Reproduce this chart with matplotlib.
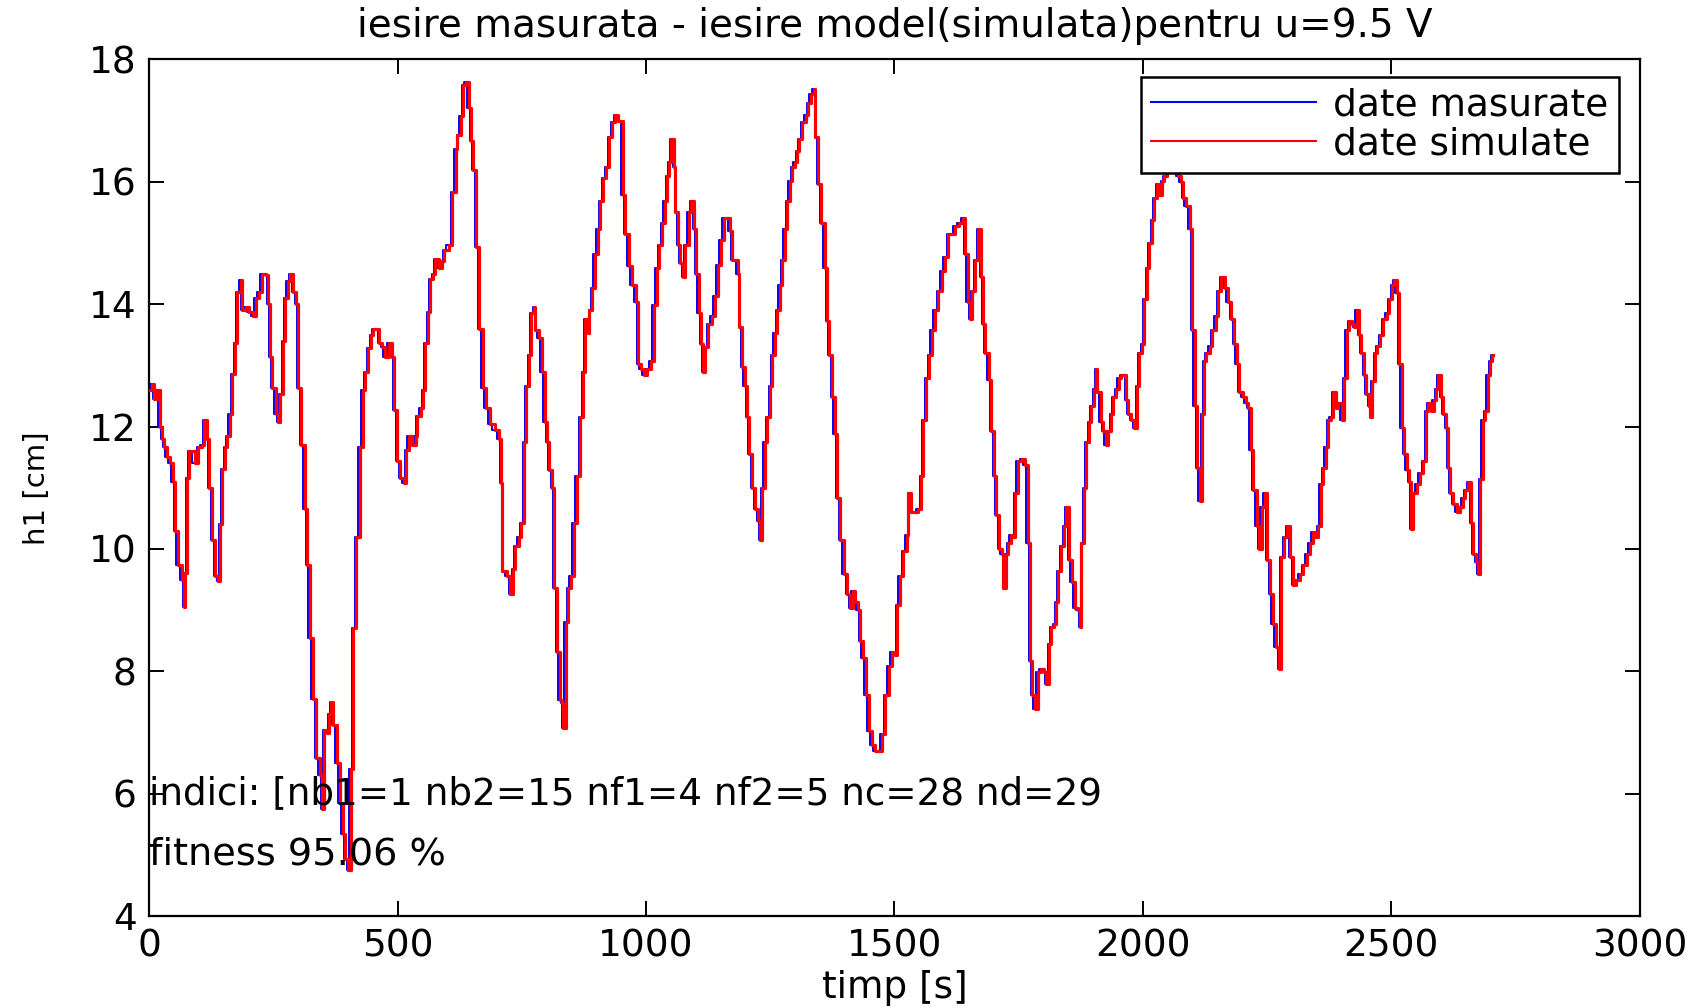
import matplotlib
matplotlib.use("Agg")
import matplotlib.pyplot as plt

# Tank level h1 (cm) sampled over time (s): measured vs simulated model output
time_s = [
    0, 5, 10, 15, 22, 25, 30, 35, 41, 47, 52, 57, 66, 69, 72, 76, 81, 93, 99, 106,
    110, 116, 120, 127, 133, 138, 142, 147, 152, 157, 162, 167, 173, 177, 184, 186, 194, 201, 208, 214,
    221, 226, 235, 240, 244, 248, 255, 260, 264, 269, 273, 279, 284, 289, 296, 300, 306, 313, 318, 323,
    330, 336, 343, 348, 352, 357, 361, 365, 370, 377, 383, 389, 395, 400, 406, 411, 417, 424, 430, 434,
    441, 447, 451, 458, 463, 468, 475, 482, 488, 493, 499, 505, 512, 516, 522, 529, 536, 539, 546, 551,
    556, 562, 566, 571, 576, 583, 590, 593, 603, 610, 617, 620, 627, 632, 637, 643, 648, 652, 658, 664,
    671, 678, 685, 695, 704, 708, 711, 720, 727, 732, 736, 744, 749, 754, 759, 764, 769, 774, 777, 784,
    791, 796, 801, 805, 811, 815, 821, 826, 831, 832, 838, 843, 848, 854, 861, 868, 873, 878, 883, 886,
    891, 897, 903, 908, 913, 920, 925, 932, 937, 943, 948, 953, 958, 965, 972, 979, 984, 989, 995, 1002,
    1009, 1015, 1022, 1027, 1032, 1038, 1042, 1047, 1051, 1056, 1059, 1064, 1069, 1074, 1079, 1086, 1091, 1096, 1101, 1106,
    1111, 1115, 1119, 1125, 1132, 1138, 1144, 1150, 1156, 1163, 1168, 1172, 1178, 1185, 1188, 1193, 1199, 1203, 1208, 1213,
    1220, 1225, 1230, 1233, 1239, 1244, 1249, 1254, 1259, 1264, 1269, 1274, 1279, 1284, 1289, 1294, 1299, 1304, 1308, 1314,
    1321, 1326, 1331, 1338, 1341, 1346, 1353, 1360, 1364, 1369, 1374, 1380, 1384, 1391, 1398, 1405, 1411, 1416, 1421, 1426,
    1431, 1436, 1442, 1448, 1454, 1461, 1468, 1475, 1481, 1488, 1495, 1501, 1505, 1511, 1518, 1525, 1528, 1533, 1540, 1547,
    1554, 1558, 1564, 1570, 1575, 1582, 1588, 1595, 1602, 1608, 1615, 1622, 1629, 1637, 1642, 1647, 1652, 1657, 1662, 1669,
    1674, 1679, 1683, 1690, 1695, 1700, 1705, 1710, 1716, 1719, 1724, 1729, 1734, 1739, 1742, 1748, 1756, 1762, 1768, 1772,
    1777, 1782, 1788, 1795, 1801, 1806, 1811, 1816, 1821, 1826, 1829, 1836, 1841, 1846, 1851, 1857, 1863, 1869, 1873, 1876,
    1881, 1886, 1892, 1896, 1902, 1906, 1908, 1915, 1920, 1925, 1930, 1936, 1940, 1946, 1951, 1956, 1961, 1966, 1971, 1977,
    1983, 1988, 1993, 1999, 2003, 2009, 2013, 2019, 2023, 2029, 2033, 2038, 2043, 2049, 2055, 2062, 2070, 2076, 2080, 2087,
    2094, 2098, 2104, 2109, 2114, 2118, 2123, 2128, 2135, 2140, 2147, 2151, 2158, 2165, 2171, 2178, 2183, 2189, 2194, 2201,
    2207, 2212, 2217, 2222, 2229, 2234, 2239, 2246, 2250, 2256, 2261, 2268, 2274, 2279, 2285, 2291, 2296, 2303, 2309, 2316,
    2323, 2330, 2336, 2342, 2346, 2353, 2358, 2363, 2368, 2373, 2378, 2383, 2389, 2393, 2400, 2405, 2410, 2415, 2420, 2425,
    2430, 2436, 2440, 2445, 2450, 2455, 2458, 2462, 2467, 2472, 2477, 2484, 2491, 2496, 2501, 2505, 2511, 2516, 2521, 2525,
    2531, 2536, 2539, 2544, 2551, 2558, 2564, 2570, 2574, 2579, 2585, 2590, 2595, 2600, 2605, 2610, 2615, 2619, 2625, 2632,
    2638, 2644, 2648, 2655, 2660, 2665, 2671, 2675, 2678, 2684, 2689, 2694, 2699, 2702, 2705,
]

h1_cm = [
    12.6, 12.7, 12.45, 12.6, 12.0, 11.8, 11.67, 11.5, 11.4, 11.1, 10.3, 9.74, 9.5, 9.05, 9.6, 11.16, 11.6, 11.4, 11.67, 11.7,
    12.1, 11.8, 11.0, 10.15, 9.56, 9.47, 10.4, 11.3, 11.67, 11.85, 12.2, 12.86, 13.37, 14.2, 14.4, 13.9, 13.96, 13.87, 13.8, 14.1,
    14.2, 14.5, 14.47, 14.0, 13.14, 12.63, 12.2, 12.08, 12.54, 13.4, 14.1, 14.38, 14.5, 14.2, 14.0, 12.63, 11.7, 10.66, 9.74, 8.55,
    7.54, 6.58, 6.3, 5.75, 7.04, 7.0, 7.3, 7.5, 7.13, 6.5, 5.85, 5.34, 4.93, 4.75, 6.4, 8.7, 10.2, 11.67, 12.6, 12.9,
    13.28, 13.5, 13.6, 13.6, 13.37, 13.3, 13.14, 13.37, 13.14, 12.27, 11.44, 11.16, 11.07, 11.62, 11.85, 11.7, 11.85, 12.17, 12.3, 12.59,
    13.37, 13.87, 14.42, 14.5, 14.74, 14.6, 14.7, 14.88, 14.97, 15.84, 16.53, 16.76, 17.08, 17.59, 17.63, 17.2, 16.67, 16.2, 14.93, 13.6,
    12.63, 12.3, 12.04, 11.95, 11.8, 11.07, 9.64, 9.55, 9.27, 9.68, 10.05, 10.2, 10.42, 11.75, 12.66, 13.17, 13.86, 13.95, 13.58, 13.44,
    12.9, 12.07, 11.75, 11.29, 11.0, 9.36, 8.31, 7.53, 7.48, 7.07, 8.81, 9.36, 9.55, 10.42, 11.2, 12.16, 12.9, 13.76, 13.53, 13.9,
    14.27, 14.82, 15.23, 15.69, 16.06, 16.24, 16.74, 16.97, 17.1, 17.0, 17.0, 15.78, 15.14, 14.63, 14.31, 14.04, 13.03, 12.94, 12.85, 12.94,
    13.08, 13.99, 14.59, 14.96, 15.32, 15.69, 16.1, 16.33, 16.7, 16.24, 15.5, 14.96, 14.68, 14.45, 14.96, 15.5, 15.69, 15.23, 14.5, 13.86,
    13.35, 12.9, 13.3, 13.67, 13.81, 14.13, 14.64, 15.05, 15.41, 15.41, 15.19, 14.73, 14.73, 14.5, 13.63, 12.98, 12.66, 12.16, 11.56, 11.0,
    10.65, 10.46, 10.14, 11.0, 11.75, 12.16, 12.66, 13.17, 13.53, 13.9, 14.31, 14.73, 15.23, 15.69, 16.01, 16.24, 16.33, 16.51, 16.7, 16.97,
    17.1, 17.29, 17.43, 17.52, 16.74, 15.96, 15.32, 14.59, 13.72, 13.17, 12.48, 11.88, 10.83, 10.14, 9.59, 9.27, 9.04, 9.32, 9.13, 9.0,
    8.49, 8.22, 7.62, 7.03, 6.8, 6.7, 6.7, 6.98, 7.62, 8.08, 8.31, 8.26, 9.09, 9.55, 9.96, 10.23, 10.92, 10.6, 10.6, 10.65,
    11.2, 12.11, 12.8, 13.17, 13.58, 13.9, 14.22, 14.54, 14.77, 15.14, 15.14, 15.28, 15.32, 15.41, 14.82, 14.04, 13.76, 14.22, 14.73, 15.23,
    14.45, 13.67, 13.21, 12.76, 11.93, 11.2, 10.56, 10.0, 9.91, 9.36, 9.91, 10.1, 10.23, 10.19, 10.92, 11.43, 11.47, 11.38, 10.1, 8.17,
    7.62, 7.39, 7.99, 8.03, 7.99, 7.8, 8.45, 8.72, 8.77, 9.13, 9.64, 10.05, 10.37, 10.69, 9.82, 9.46, 9.04, 9.0, 8.72, 10.1,
    11.0, 11.75, 12.07, 12.34, 12.62, 12.94, 12.57, 12.07, 11.93, 11.7, 11.93, 12.2, 12.48, 12.62, 12.8, 12.85, 12.85, 12.43, 12.2, 12.11,
    11.98, 12.66, 13.21, 13.35, 14.08, 14.59, 15.0, 15.37, 15.74, 15.96, 15.78, 16.01, 16.1, 16.33, 16.45, 16.4, 16.1, 16.0, 15.74, 15.6,
    15.23, 13.58, 12.34, 11.33, 10.78, 12.2, 13.08, 13.21, 13.31, 13.58, 13.81, 14.22, 14.45, 14.27, 14.04, 13.76, 13.35, 13.03, 12.57, 12.48,
    12.39, 12.3, 11.61, 10.97, 10.37, 10.0, 10.69, 10.92, 9.82, 9.27, 8.77, 8.4, 8.03, 9.87, 10.19, 10.37, 9.87, 9.41, 9.5, 9.59,
    9.73, 9.91, 10.1, 10.28, 10.19, 10.37, 11.06, 11.33, 11.66, 12.11, 12.16, 12.57, 12.3, 12.39, 12.11, 12.8, 13.58, 13.72, 13.67, 13.63,
    13.9, 13.49, 13.21, 12.85, 12.53, 12.34, 12.16, 12.75, 13.21, 13.31, 13.49, 13.76, 13.86, 14.08, 14.31, 14.4, 14.18, 13.03, 11.98, 11.56,
    11.29, 11.1, 10.33, 10.92, 11.06, 11.24, 11.43, 12.25, 12.39, 12.25, 12.43, 12.62, 12.85, 12.48, 12.2, 11.98, 11.33, 10.92, 10.74, 10.6,
    10.69, 10.83, 10.97, 11.1, 10.42, 9.91, 9.78, 9.59, 11.15, 12.11, 12.25, 12.85, 13.08, 13.17, 13.17,
]

x_ticks = [0, 500, 1000, 1500, 2000, 2500, 3000]
y_ticks = [4, 6, 8, 10, 12, 14, 16, 18]

title_text = "iesire masurata - iesire model(simulata)pentru u=9.5 V"
legend_labels = ["date masurate", "date simulate"]
note_indici = "indici: [nb1=1 nb2=15 nf1=4 nf2=5 nc=28 nd=29"
note_fitness = "fitness 95.06 %"

plt.rcParams["font.family"] = ["DejaVu Sans"]

fig = plt.figure(figsize=(16.96, 10.08), dpi=100)
ax = fig.add_axes([0.088, 0.0912, 0.8788, 0.8498])

ax.plot(time_s, h1_cm, color=(0, 0, 1), lw=1.4, drawstyle="steps-mid",
        label=legend_labels[0], zorder=2)
ax.plot(time_s, h1_cm, color=(1, 0, 0), lw=2.3, drawstyle="steps-post",
        label=legend_labels[1], zorder=3)

ax.set_xlim(0, 3000)
ax.set_ylim(4, 18)
ax.set_xticks(x_ticks)
ax.set_yticks(y_ticks)

ax.tick_params(direction="in", length=11, width=1.4, labelsize=27,
               top=True, right=True, pad=9)
for s in ax.spines.values():
    s.set_linewidth(1.6)

ax.set_title(title_text, fontsize=28, pad=16)
ax.set_xlabel("timp [s]", fontsize=27, labelpad=4)
ax.set_ylabel("h1 [cm]", fontsize=21, labelpad=27)

ax.text(0, 6, note_indici, fontsize=26.8, va="center", ha="left", zorder=5)
ax.text(0, 5, note_fitness, fontsize=27.5, va="center", ha="left", zorder=5)

leg = ax.legend(loc="upper right", bbox_to_anchor=(0.9546, 0.9236),
                bbox_transform=fig.transFigure, borderaxespad=0,
                fontsize=27, handlelength=4.4, handletextpad=0.45,
                labelspacing=0.08, borderpad=0.28, fancybox=False,
                framealpha=1, edgecolor="black")
leg.get_frame().set_linewidth(1.8)
for line in leg.get_lines():
    line.set_linewidth(1.5)

fig.savefig("out.png", dpi=100, facecolor="white")
